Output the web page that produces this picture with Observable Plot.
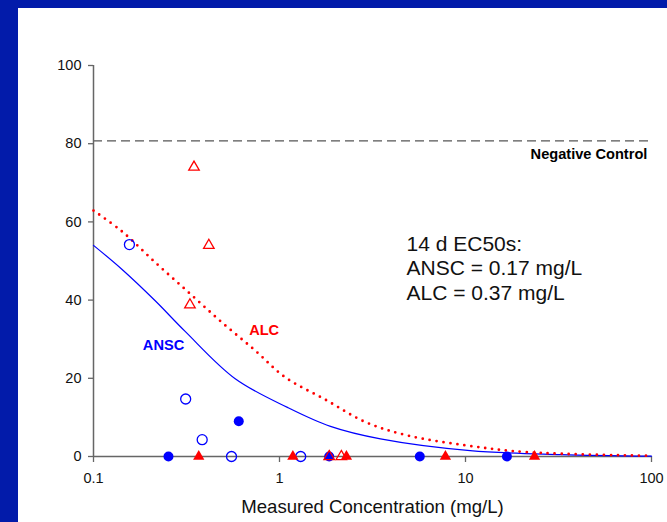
<!DOCTYPE html>
<html><head><meta charset="utf-8">
<script src="https://cdn.jsdelivr.net/npm/d3@7"></script>
<script src="https://cdn.jsdelivr.net/npm/@observablehq/plot@0.6"></script>
<style>
html,body{margin:0;padding:0;}
body{width:667px;height:522px;background:#021BAA;overflow:hidden;position:relative;font-family:"Liberation Sans",Arial,sans-serif;}
#panel{position:absolute;left:18px;top:8px;width:649px;height:514px;background:#fff;}
</style></head><body><div id="panel"></div>
<script>
// Measured data points
const anscOpenX = [0.156, 0.313, 0.384, 0.552, 1.30];
const anscOpenY = [54.2, 14.7, 4.3, 0, 0];
const anscFilledX = [0.253, 0.604, 1.85, 5.68, 16.7];
const anscFilledY = [0, 9.0, 0, 0, 0];
const alcOpenX = [0.347, 0.417, 0.330, 1.85, 2.15];
const alcOpenY = [74.0, 54.0, 38.8, 0, 0];
const alcFilledX = [0.368, 1.18, 2.29, 7.8, 23.5];
const alcFilledY = [0, 0, 0, 0, 0];

// Fitted curves
const anscCurveX = [0.1, 0.142, 0.214, 0.311, 0.578, 1.11, 1.88, 3.49, 10.6, 32.5, 100];
const anscCurveY = [54.0, 47.9, 39.9, 32.0, 19.9, 12.5, 7.7, 4.5, 1.5, 0.5, 0.1];
const alcCurveX = [0.1, 0.142, 0.214, 0.324, 0.49, 0.74, 1.07, 1.77, 2.9, 4.86, 10.2, 21.5, 100];
const alcCurveY = [62.9, 57.6, 49.7, 42.0, 34.3, 27.1, 20.3, 14.5, 8.8, 5.4, 2.8, 1.1, 0.2];

const negativeControl = 80.7;
const xTicks = [0.1, 1, 10, 100];
const xTickLabels = ["0.1", "1", "10", "100"];
const yTicks = [0, 20, 40, 60, 80, 100];
const yTickLabels = ["0", "20", "40", "60", "80", "100"];

const xLabel = "Measured Concentration (mg/L)";
const ec50Text = "14 d EC50s:\nANSC = 0.17 mg/L\nALC = 0.37 mg/L";

const zip = (xs, ys) => xs.map((x, i) => ({x, y: ys[i]}));

const font = '"Liberation Sans", Arial, sans-serif';
const axisGray = "#666";

const chart = Plot.plot({
  width: 649,
  height: 514,
  marginLeft: 75,
  marginRight: 16,
  marginTop: 57,
  marginBottom: 66,
  style: {fontFamily: font, fontSize: "14px", background: "transparent", overflow: "visible"},
  x: {type: "log", domain: [0.1, 100]},
  y: {domain: [0, 100]},
  marks: [
    // negative control
    Plot.ruleY([negativeControl], {x1: 0.1, x2: 100, stroke: "#555", strokeWidth: 1.3, strokeDasharray: "9,5"}),
    Plot.text(["Negative Control"], {x: 95, y: 77.2, textAnchor: "end", fontWeight: "bold", fontSize: 14.6, fill: "#000"}),
    // axes lines and ticks
    Plot.ruleY([0], {x1: 0.1, x2: 100, stroke: axisGray, strokeWidth: 1.5}),
    Plot.ruleX([0.1], {y1: 0, y2: 100, stroke: axisGray, strokeWidth: 1.5}),
    Plot.axisX({ticks: xTicks, tickFormat: () => "", tickSize: 6, stroke: axisGray, strokeWidth: 1.3, label: null}),
    Plot.axisY({ticks: yTicks, tickFormat: () => "", tickSize: 5, stroke: axisGray, strokeWidth: 1.3, label: null}),
    // tick labels
    Plot.text(xTicks, {x: d => d, y: 0, text: (d, i) => xTickLabels[i], dy: 22, fontSize: 14.5, fill: "#111"}),
    Plot.text(yTicks, {x: 0.1, y: d => d, text: (d, i) => yTickLabels[i], dx: -12, textAnchor: "end", fontSize: 14.5, fill: "#111"}),
    Plot.text([xLabel], {frameAnchor: "bottom", dy: 56, fontSize: 18.6, fill: "#111"}),
    // curves
    Plot.line(zip(anscCurveX, anscCurveY), {x: "x", y: "y", stroke: "#0000FF", strokeWidth: 1.2, curve: "catmull-rom"}),
    Plot.line(zip(alcCurveX, alcCurveY), {x: "x", y: "y", stroke: "#FF0000", strokeWidth: 2.8, strokeDasharray: "0,7", strokeLinecap: "round", curve: "catmull-rom"}),
    // points
    Plot.dot(zip(anscFilledX, anscFilledY), {x: "x", y: "y", r: 5, fill: "#0000FF", stroke: "none"}),
    Plot.dot(zip(anscOpenX, anscOpenY), {x: "x", y: "y", r: 5, fill: "none", stroke: "#0000FF", strokeWidth: 1.3}),
    Plot.dot(zip(alcFilledX, alcFilledY), {x: "x", y: "y", r: 4.2, symbol: "triangle", fill: "#FF0000", stroke: "none"}),
    Plot.dot(zip(alcOpenX, alcOpenY), {x: "x", y: "y", r: 3.9, symbol: "triangle", fill: "none", stroke: "#FF0000", strokeWidth: 1.3}),
    // labels
    Plot.text(["ANSC"], {x: 0.238, y: 28.4, fontWeight: "bold", fontSize: 14.6, fill: "#0000FF"}),
    Plot.text(["ALC"], {x: 0.827, y: 32.2, fontWeight: "bold", fontSize: 14.6, fill: "#FF0000"}),
    Plot.text([ec50Text], {x: 4.82, y: 48.4, textAnchor: "start", lineAnchor: "middle", lineHeight: 1.17, fontSize: 21, fill: "#111"})
  ]
});
document.getElementById("panel").appendChild(chart);
</script></body></html>
